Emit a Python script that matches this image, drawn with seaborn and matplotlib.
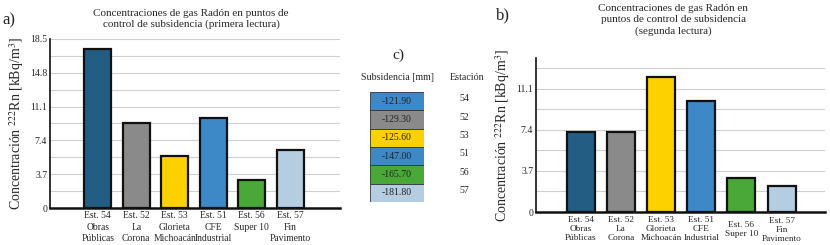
import numpy as np
import pandas as pd
import matplotlib
matplotlib.use("Agg")
import matplotlib.pyplot as plt
import matplotlib.transforms as mtransforms
import seaborn as sns

# data
labels = ["Est. 54\nObras\nPúblicas", "Est. 52\nLa\nCorona", "Est. 53\nGlorieta\nMichoacán",
          "Est. 51\nCFE\nIndustrial", "Est. 56\nSuper 10", "Est. 57\nFin\nPavimento"]
first_reading = [17.4, 9.3, 5.7, 9.8, 3.1, 6.3]
second_reading = [7.2, 7.2, 12.1, 10.0, 3.1, 2.3]
bar_colors = ["#245d83", "#8a8a8a", "#fdd100", "#3d88c7", "#4aa838", "#b5cde0"]

subsidence = [-121.90, -129.30, -125.60, -147.00, -165.70, -181.80]
station_ids = [54, 52, 53, 51, 56, 57]
table_colors = ["#3d88c7", "#8a8a8a", "#fdd100", "#3d88c7", "#4aa838", "#b5cde0"]

sns.set_theme(style="white")
plt.rcParams['font.family'] = ['Liberation Serif', 'DejaVu Serif']
plt.rcParams['mathtext.fontset'] = 'stix'

W, H = 830, 245
fig = plt.figure(figsize=(W / 100, H / 100), dpi=100)

def px_axes(x0, y_top, x1, y_bot):
    return fig.add_axes([x0 / W, (H - y_bot) / H, (x1 - x0) / W, (y_bot - y_top) / H])

ylabel = "Concentración $^{222}$Rn [kBq/m$^3$]"

def bar_panel(ax, values, ymax, majors, xlim, spacing, pad, xsize):
    df = pd.DataFrame({"est": labels, "val": values})
    sns.barplot(data=df, x="est", y="val", hue="est", palette=bar_colors, legend=False,
                width=0.7, edgecolor="#111111", linewidth=1.6, saturation=1, ax=ax, zorder=3)
    ax.set_xlim(*xlim)
    ax.set_ylim(0, ymax)
    ax.set_yticks(majors)
    ax.set_yticklabels([("%.1f" % v) if v > 0 else "0" for v in majors], fontsize=7)
    ax.set_yticks(np.arange(1.85, ymax, 3.7), minor=True)
    ax.grid(True, which="both", axis="y", color="#cfcfcf", linewidth=0.8, zorder=0)
    ax.set_axisbelow(True)
    ax.tick_params(axis="y", length=0, pad=2, labelsize=7)
    ax.tick_params(axis="x", length=0, pad=pad, labelsize=xsize)
    for lbl in ax.get_xticklabels():
        lbl.set_linespacing(spacing)
    ax.set_xlabel("")
    ax.set_ylabel(ylabel, fontsize=10, labelpad=3)
    for s in ["top", "right"]:
        ax.spines[s].set_visible(False)
    ax.spines["left"].set_color("#111111")
    ax.spines["left"].set_linewidth(1.2)
    ax.spines["bottom"].set_color("#111111")
    ax.spines["bottom"].set_linewidth(1.8)

# panel a
ax1 = px_axes(50, 39, 340, 208)
bar_panel(ax1, first_reading, 18.5, [0, 3.7, 7.4, 11.1, 14.8, 18.5], (-1.24, 6.29), 1.4, 2, 6.9)
fig.text(191 / W, 1 - 19 / H, "Concentraciones de gas Radón en puntos de\ncontrol de subsidencia (primera lectura)",
         ha="center", va="center", fontsize=8, linespacing=1.3)
fig.text(2 / W, 1 - 20 / H, "a)", fontsize=12, va="center")

# panel b
ax2 = px_axes(536, 58, 825, 212)
bar_panel(ax2, second_reading, 13.85, [0, 3.7, 7.4, 11.1], (-1.11, 6.08), 1.12, 3, 6.7)
xl = ax2.get_xticklabels()
xl[4].set_transform(xl[4].get_transform() + mtransforms.ScaledTranslation(0, -0.05, fig.dpi_scale_trans))
xl[5].set_transform(xl[5].get_transform() + mtransforms.ScaledTranslation(0, -0.01, fig.dpi_scale_trans))
fig.text(673 / W, 1 - 20 / H, "Concentraciones de gas Radón en\npuntos de control de subsidencia\n(segunda lectura)",
         ha="center", va="center", fontsize=8, linespacing=1.3)
fig.text(496 / W, 1 - 15 / H, "b)", fontsize=12, va="center")

# panel c - table
ax3 = px_axes(370, 92, 424, 202)
rows = np.arange(len(subsidence))
ax3.barh(rows, [1] * len(rows), left=0, height=1, color=table_colors,
         edgecolor="#333333", linewidth=0.6)
ax3.set_xlim(0, 1)
ax3.set_ylim(len(rows) - 0.5, -0.5)
ax3.axis("off")
for i, (v, sid) in enumerate(zip(subsidence, station_ids)):
    ax3.text(0.5, i, "%.2f" % v, ha="center", va="center", fontsize=7, color="#222222")
    ax3.text(1.75, i - 0.12, str(sid), ha="center", va="center", fontsize=7, color="#222222",
             clip_on=False)
fig.text(397 / W, 1 - 77 / H, "Subsidencia [mm]", ha="center", va="center", fontsize=7.2)
fig.text(467 / W, 1 - 77 / H, "Estación", ha="center", va="center", fontsize=7.2)
fig.text(398 / W, 1 - 55 / H, "c)", ha="center", va="center", fontsize=11)

fig.savefig("out.png", dpi=100)
